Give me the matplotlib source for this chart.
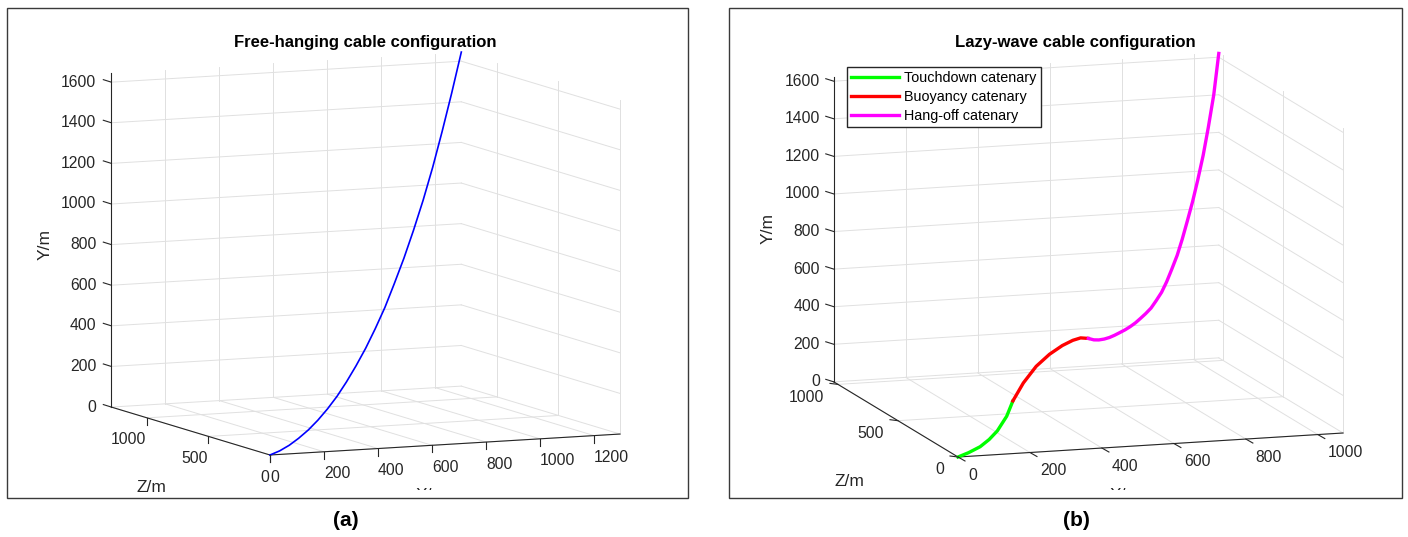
import numpy as np
import matplotlib
matplotlib.use('Agg')
import matplotlib.pyplot as plt
from matplotlib.patches import Rectangle
from matplotlib.transforms import Bbox
from mpl_toolkits.mplot3d import proj3d

W, H = 1408, 537
plt.rcParams['font.family'] = ['Liberation Sans', 'DejaVu Sans']

# ---- (a) free-hanging cable ----
free_x = [0, 65, 130, 194, 259, 324, 389, 454, 518, 583, 648, 713, 778, 842, 907, 972, 1037, 1102, 1166, 1231, 1296]
free_z = [0, 65, 129, 194, 258, 323, 387, 452, 516, 581, 645, 710, 774, 839, 903, 968, 1032, 1097, 1161, 1226, 1290]
free_y = [0, 3, 14, 31, 55, 86, 125, 170, 224, 286, 356, 435, 523, 622, 731, 851, 983, 1128, 1287, 1459, 1645]
lim_a = (1296, 1290, 1645)          # X, Z, Y limits
xt_a = [0, 200, 400, 600, 800, 1000, 1200]
zt_a = [0, 500, 1000]
yt_a = [0, 200, 400, 600, 800, 1000, 1200, 1400, 1600]

# ---- (b) lazy-wave cable ----
td_x = [0, 43, 91, 128, 161, 200, 225]
td_z = [0, 41, 88, 124, 155, 194, 217]
td_y = [0, 2, 10, 30, 60, 118, 188]
bu_x = [225, 268, 321, 375, 428, 471, 503, 535]
bu_z = [217, 259, 311, 362, 414, 455, 486, 518]
bu_y = [188, 262, 324, 362, 382, 389, 386, 367]
ho_x = [535, 557, 578, 600, 621, 642, 663, 685, 706, 728, 749, 770, 792, 813, 835, 856, 877, 899, 920, 941, 963, 984, 1006, 1027, 1049, 1070]
ho_z = [518, 538, 559, 580, 600, 621, 642, 662, 683, 704, 725, 745, 766, 787, 807, 828, 849, 869, 890, 911, 932, 952, 973, 994, 1014, 1035]
ho_y = [367, 349, 338, 332, 330, 331, 334, 339, 345, 355, 368, 383, 402, 430, 465, 510, 565, 630, 705, 790, 885, 990, 1110, 1245, 1410, 1620]
lim_b = (1070, 1035, 1625)
xt_b = [0, 200, 400, 600, 800, 1000]
zt_b = [0, 500, 1000]
yt_b = yt_a
seg_names = ['Touchdown catenary', 'Buoyancy catenary', 'Hang-off catenary']
seg_colors = ['#00ff00', '#ff0000', '#ff00ff']

AX = '#262626'
GRID = '#e0e0e0'

fig = plt.figure(figsize=(W / 100, H / 100), dpi=100)


def make_box(rect, lim, elev, azim, aspect):
    x0, y0, w, h = rect
    ax = fig.add_axes([x0 / W, 1 - (y0 + h) / H, w / W, h / H], projection='3d', proj_type='ortho')
    ax.set_axis_off()
    ax.computed_zorder = False
    ax.set_xlim(0, lim[0]); ax.set_ylim(0, lim[1]); ax.set_zlim(0, lim[2])
    ax.view_init(elev=elev, azim=azim)
    ax.set_box_aspect(aspect)
    return ax


def draw_grid(ax, lim, xt, zt, yt):
    xm, zm, ym = lim
    kw = dict(color=GRID, lw=0.7, zorder=1, clip_on=False)
    for t in xt:
        ax.plot([t, t], [0, zm], [0, 0], **kw)
        ax.plot([t, t], [zm, zm], [0, ym], **kw)
    for t in zt:
        ax.plot([0, xm], [t, t], [0, 0], **kw)
        ax.plot([xm, xm], [t, t], [0, ym], **kw)
    for t in yt:
        ax.plot([0, xm], [zm, zm], [t, t], **kw)
        ax.plot([xm, xm], [0, zm], [t, t], **kw)
    ak = dict(color=AX, lw=0.8, zorder=2, clip_on=False)
    ax.plot([0, xm], [0, 0], [0, 0], **ak)
    ax.plot([0, 0], [0, zm], [0, 0], **ak)
    ax.plot([0, 0], [zm, zm], [0, ym], **ak)


def to_px(ax, x, y, z):
    xs, ys, _ = proj3d.proj_transform(np.asarray(x, float), np.asarray(y, float),
                                      np.asarray(z, float), ax.get_proj())
    p = ax.transData.transform(np.column_stack([xs, ys]))
    return np.column_stack([p[:, 0], H - p[:, 1]])


def fit(ax, aspect, xm, o_t, xe_t):
    zoom = 1.0
    for _ in range(3):
        fig.canvas.draw()
        o, xe = to_px(ax, [0, xm], [0, 0], [0, 0])
        zoom *= np.hypot(*np.subtract(xe_t, o_t)) / np.hypot(*(xe - o))
        ax.set_box_aspect(aspect, zoom=zoom)
        fig.canvas.draw()
        o = to_px(ax, [0], [0], [0])[0]
        d = np.subtract(o_t, o)
        pos = ax.get_position(original=True)
        ax.set_position([pos.x0 + d[0] / W, pos.y0 - d[1] / H, pos.width, pos.height])


asp_a = (383, 390, 337)
asp_b = (404, 406, 311)
ax_a = make_box((20, 20, 660, 470), lim_a, 7.73, -114.0, asp_a)
ax_b = make_box((740, 20, 660, 470), lim_b, 11.2, -107.8, asp_b)

draw_grid(ax_a, lim_a, xt_a, zt_a, yt_a)
draw_grid(ax_b, lim_b, xt_b, zt_b, yt_b)

ax_a.plot(free_x, free_z, free_y, color='#0000ff', lw=1.2, zorder=5, clip_on=False)
handles = []
for xs, zs, ys, c in zip([td_x, bu_x, ho_x], [td_z, bu_z, ho_z], [td_y, bu_y, ho_y], seg_colors):
    handles += ax_b.plot(xs, zs, ys, color=c, lw=2.4, zorder=5, clip_on=False)

fit(ax_a, asp_a, lim_a[0], (270, 455), (620, 434))
fit(ax_b, asp_b, lim_b[0], (958, 457), (1343, 433))
fig.canvas.draw()

ax_b.legend(handles, seg_names, loc='upper left', bbox_to_anchor=(847 / W, 1 - 67 / H),
            bbox_transform=fig.transFigure, fancybox=False, edgecolor=AX, framealpha=1,
            fontsize=10.4, handlelength=3.3, borderpad=0.3, labelspacing=0.33,
            handletextpad=0.35, borderaxespad=0)

# overlay in image pixel coordinates
ov = fig.add_axes([0, 0, 1, 1])
ov.set_xlim(0, W); ov.set_ylim(H, 0); ov.axis('off'); ov.set_zorder(10)

TFS = 11.3


def ticks(ax, lim, xt, zt, yt, xdir, zdir, ydir, xoff, zoff, yoff):
    xm, zm, ym = lim
    tk = dict(color=AX, lw=0.8)
    tx = dict(fontsize=TFS, color=AX, va='center')
    for t in xt:
        p = to_px(ax, [t], [0], [0])[0]
        ov.plot([p[0], p[0] + xdir[0]], [p[1], p[1] + xdir[1]], **tk)
        ov.text(p[0] + xoff[0], p[1] + xoff[1], str(t), ha='left', **tx)
    for t in zt:
        p = to_px(ax, [0], [t], [0])[0]
        ov.plot([p[0], p[0] + zdir[0]], [p[1], p[1] + zdir[1]], **tk)
        ov.text(p[0] + zoff[0], p[1] + zoff[1], str(t), ha='right', **tx)
    for t in yt:
        p = to_px(ax, [0], [zm], [t])[0]
        ov.plot([p[0], p[0] + ydir[0]], [p[1], p[1] + ydir[1]], **tk)
        ov.text(p[0] + yoff[0], p[1] + yoff[1], str(t), ha='right', **tx)


ticks(ax_a, lim_a, xt_a, zt_a, yt_a, (0, 7), (0, 7), (-8, -2.5), (0, 22), (-1, 22), (-15, 0))
ticks(ax_b, lim_b, xt_b, zt_b, yt_b, (7, 4), (-8, -1), (-8, -2.5), (10, 18), (-14, 13), (-14, 0))

# frames, titles, axis labels
for x0, x1 in [(7, 688), (729, 1402)]:
    ov.add_patch(Rectangle((x0, 8), x1 - x0, 490, fill=False, ec='#3a3a3a', lw=1.0))

ov.text(365, 42, 'Free-hanging cable configuration', ha='center', va='center',
        fontsize=12, fontweight='bold')
ov.text(1075, 43, 'Lazy-wave cable configuration', ha='center', va='center',
        fontsize=12, fontweight='bold')

lab = dict(fontsize=12.5, color=AX, ha='center', va='center')
ov.text(45, 245, 'Y/m', rotation=90, **lab)
ov.text(151, 487, 'Z/m', **lab)
ov.text(768, 228, 'Y/m', rotation=90, **lab)
ov.text(849, 482, 'Z/m', **lab)
for x, (c0, c1) in [(431, (7, 688)), (1125, (729, 1402))]:
    t = ov.text(x, 495, 'X/m', **lab)
    t.set_clip_box(Bbox.from_extents(c0, H - 490, c1, H - 8))
    t.set_clip_on(True)

ov.text(346, 520, '(a)', ha='center', va='center', fontsize=15, fontweight='bold')
ov.text(1076, 520, '(b)', ha='center', va='center', fontsize=15, fontweight='bold')

fig.savefig('out.png', dpi=100)
